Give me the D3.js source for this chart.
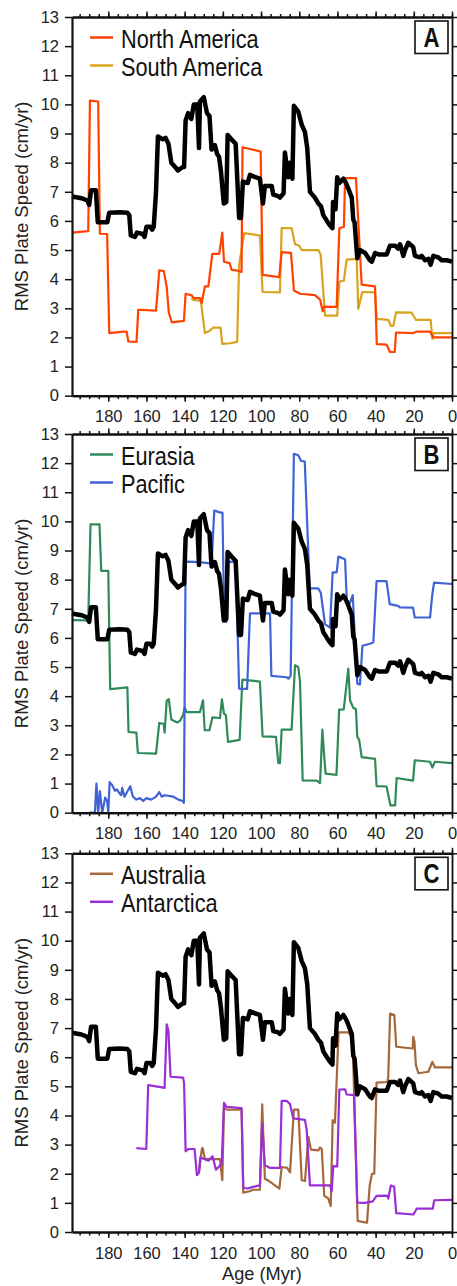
<!DOCTYPE html>
<html>
<head>
<meta charset="utf-8">
<script src="https://cdn.jsdelivr.net/npm/d3@7"></script>
<style>
  html, body { margin: 0; padding: 0; background: #fff; }
  svg { display: block; }
  .tick text { font-family: "Liberation Sans", Arial, Helvetica, sans-serif; }
</style>
</head>
<body>
<div id="chart"></div>
<script>
// ---------------- DATA ----------------
const yTickValues = [0,1,2,3,4,5,6,7,8,9,10,11,12,13];
const ageTickValues = [0,20,40,60,80,100,120,140,160,180];
const ageMinorTicks = [0,5,10,15,20,25,30,35,40,45,50,55,60,65,70,75,80,85,90,95,100,105,110,115,120,125,130,135,140,145,150,155,160,165,170,175,180,185,190,195];

// global RMS plate speed (black), [age Myr, cm/yr]
const globalRms = [[199,6.84],[194,6.78],[191,6.7],[190,6.55],[189,7.05],[186.5,7.05],[185.5,5.95],[180.5,5.95],[179.5,6.28],[174,6.3],[170,6.28],[169,6.2],[168.2,5.5],[166,5.45],[165,5.6],[162,5.55],[161,5.45],[160,5.8],[158,5.8],[157,5.7],[156.2,5.8],[155,7.0],[154,8.9],[151.5,8.8],[150,8.85],[148.5,8.65],[147,8.0],[145,7.85],[143.5,7.73],[141,7.85],[140.3,7.85],[139.5,9.45],[138.2,9.7],[136.5,9.5],[135.2,10.0],[133.4,10.0],[132.5,8.5],[132,10.1],[130,10.25],[128.3,9.7],[127,9.6],[125.9,8.45],[124.2,8.6],[123,8.3],[122,8.2],[121,7.7],[119.5,6.6],[118.2,6.65],[117.5,8.95],[115.5,8.8],[113.3,8.65],[111.5,6.1],[110.5,6.1],[109.5,7.35],[107,7.3],[105.8,7.58],[103,7.5],[100.6,7.45],[99,6.6],[98,7.2],[94.4,7.2],[93.6,6.9],[91,6.85],[90.1,6.8],[88.2,6.95],[87.5,8.35],[85.8,7.5],[85,8.0],[83.6,7.45],[82.8,9.95],[80.5,9.75],[78.7,9.3],[77,9.05],[75.8,8.5],[74.4,7.0],[71.8,6.8],[70,6.6],[68.6,6.5],[67.4,6.2],[65.5,6.0],[64,5.85],[62.6,5.75],[62.3,6.65],[61,6.4],[60.1,7.5],[59,7.3],[56.9,7.45],[55.5,7.3],[54.5,7.15],[52.5,6.8],[51.7,6.05],[51,5.95],[49.6,4.72],[48.2,5.0],[45.5,4.9],[43,4.65],[42,4.6],[40.3,4.9],[38.5,4.85],[36,4.85],[34.2,4.85],[32.5,5.15],[29.8,5.15],[28.2,5.05],[27.2,5.2],[25.5,4.8],[24.6,5.0],[22.9,5.25],[20.3,5.1],[19.4,4.8],[16.8,4.75],[15.9,4.8],[14.1,4.65],[12.4,4.7],[11.2,4.5],[9.8,4.8],[7.2,4.75],[5.4,4.65],[2.8,4.65],[0,4.6]];

const northAmerica = [[199,5.6],[190.5,5.65],[189.6,10.13],[185.3,10.1],[184.4,5.56],[180.6,5.55],[179.5,2.15],[172,2.2],[170.4,2.2],[169.5,1.86],[165.2,1.85],[164.3,2.95],[155,2.92],[153.3,4.3],[150.9,4.28],[149.4,3.73],[148.3,2.85],[146.7,2.52],[140.4,2.57],[139.5,3.5],[136.4,3.45],[135.2,3.35],[132,3.35],[131.1,3.18],[129.4,3.75],[127.6,3.75],[125.5,4.87],[121.9,4.87],[120.3,5.6],[119.4,4.6],[116.5,4.55],[115.4,4.32],[112.9,4.3],[110.2,4.25],[109.7,8.53],[100.2,8.38],[99.2,4.15],[90.5,4.07],[89.2,4.93],[84.3,4.9],[82.8,3.61],[79.6,3.5],[71.8,3.45],[69.1,3.3],[67.7,2.9],[67,3.06],[60.4,3.05],[59,5.75],[56.6,5.8],[56,7.47],[50.3,7.47],[47.3,3.81],[40.3,3.75],[39.4,1.77],[34.2,1.75],[32.5,1.5],[30,1.5],[29.3,2.17],[20.2,2.15],[18.5,2.2],[11.5,2.2],[9.8,2.0],[0,2.0]];

const southAmerica = [[136.5,3.35],[135.5,3.29],[131.5,3.25],[129.4,2.15],[127.6,2.2],[125,2.34],[121.2,2.34],[120.3,1.78],[116,1.8],[112.5,1.85],[111.5,4.49],[108.8,5.58],[100.6,5.5],[99.2,3.56],[90.1,3.55],[89.2,5.75],[84,5.75],[82.2,5.2],[80,5.15],[78.7,5.0],[70,5.0],[68.8,4.85],[66.5,2.75],[60.1,2.75],[59,3.92],[56.6,3.95],[55.2,4.67],[49.9,4.7],[49.1,2.98],[47,3.56],[40.3,3.55],[39.4,2.64],[33.3,2.6],[32,2.4],[30.7,2.4],[29.3,2.86],[21.1,2.85],[18.9,2.6],[11.2,2.6],[10.3,1.95],[9.8,2.15],[0,2.15]];

const eurasia = [[199,6.61],[190.5,6.6],[189.3,9.9],[184.6,9.9],[183.7,8.3],[180,8.3],[179,4.24],[170,4.3],[169.4,2.77],[165.3,2.75],[164.5,2.05],[155,2.03],[153.3,3.08],[151,3.05],[150.5,2.75],[149.4,3.85],[148.3,3.9],[147,3.2],[144,3.1],[142.5,3.15],[140.8,3.35],[140,3.61],[139,3.45],[132,3.45],[130.4,3.86],[129.5,2.83],[127,2.83],[125.5,3.27],[121.5,3.25],[120.5,3.89],[119.4,3.4],[118.4,3.35],[117.3,2.43],[111.2,2.5],[109.8,4.57],[100.6,4.5],[99.2,2.62],[92.2,2.6],[91,1.71],[90.1,1.7],[89.2,2.85],[84,2.85],[82.2,5.06],[80.5,5.0],[79.6,4.5],[78.2,1.11],[70.9,1.1],[69.1,1.02],[67.9,2.85],[67,2.0],[66.2,1.34],[60.5,1.3],[59.1,3.54],[56.7,3.55],[54.3,4.95],[53.4,3.86],[51.7,3.6],[50.3,3.55],[49.6,2.6],[48.6,2.5],[47.3,1.91],[40.3,1.85],[39.5,0.91],[34.3,0.9],[32.2,0.25],[29.8,0.25],[29,1.19],[20.4,1.1],[19.5,1.8],[11.5,1.75],[10.3,1.55],[8.9,1.75],[0,1.7]];

const pacific = [[190,0],[187,0],[186.2,1.0],[185.3,0],[184.4,0.74],[183.2,0],[181.6,0.52],[180.6,0.4],[180,0],[179.3,1.05],[178,0.95],[176.5,0.75],[175.5,0.8],[174,0.65],[173.2,0.6],[172.7,0.85],[171.5,0.55],[168.5,0.91],[167.1,0.55],[165.3,0.45],[163.4,0.5],[161.7,0.4],[160.1,0.5],[157.5,0.45],[155,0.55],[153.3,0.71],[152,0.55],[150.5,0.6],[145.9,0.55],[143.3,0.45],[141,0.4],[140.4,0.34],[139.5,8.62],[132,8.6],[125.9,8.55],[124.5,10.37],[121.2,10.3],[120.2,10.3],[119.3,6.58],[118.1,6.55],[117,8.62],[113.2,8.6],[111.5,4.26],[107.3,4.25],[105.8,6.84],[95.3,6.84],[94.6,4.7],[86.6,4.65],[85.7,4.6],[84.5,4.7],[82.8,12.32],[80.5,12.27],[79.1,12.08],[77.1,12.05],[74.5,7.7],[70.1,7.7],[68.7,7.55],[66.5,6.47],[63.9,6.35],[62.5,8.25],[60.4,8.25],[59.5,8.79],[56,8.7],[55.1,7.3],[53.4,7.2],[52,7.47],[49.6,4.43],[48.2,4.4],[46.9,5.73],[43,5.8],[41.2,5.85],[39.5,7.95],[34.3,7.95],[32.6,7.16],[28.2,7.1],[27.3,7.05],[20.4,7.04],[19.5,6.7],[11.5,6.7],[10.3,7.5],[9.4,7.9],[0,7.85]];

const australia = [[133.6,1.95],[132.5,2.05],[131,2.85],[130.6,2.89],[129.4,2.5],[121.5,2.5],[120.3,1.78],[119.4,4.3],[118.1,4.2],[110.2,4.2],[109.3,1.35],[106,1.4],[104.1,1.45],[100.6,1.45],[99.4,4.38],[98,1.83],[95.8,1.75],[90.4,1.49],[89.2,2.23],[86.3,2.2],[84.8,2.05],[82.8,4.2],[80.5,4.2],[78.7,1.78],[77,1.75],[75.2,3.26],[73.9,2.83],[70,2.8],[69.1,2.9],[68.2,2.85],[66.9,1.24],[64.8,1.15],[63.5,0.89],[62.5,3.84],[61.3,3.75],[59.4,6.85],[54.3,6.85],[53.1,6.75],[52,6.5],[49.4,0.38],[47,0.35],[44.5,0.32],[43.1,1.6],[41.9,2.0],[40.7,2.0],[39.5,5.13],[33.9,5.15],[33.4,5.3],[32.4,7.5],[30.2,7.45],[29.2,6.36],[20.6,6.3],[20.3,6.7],[19.7,6.55],[18.9,5.73],[17.6,5.45],[12.4,5.5],[10.3,5.84],[8.9,5.65],[0,5.65]];

const antarctica = [[165.3,2.88],[160.1,2.85],[159.1,5.04],[155,5.0],[150.5,4.95],[149.4,7.13],[148.5,6.9],[147.4,5.33],[140.8,5.3],[140.3,5.1],[139.5,2.77],[138,2.85],[134.8,2.85],[133.6,1.95],[132.5,2.05],[131.8,2.56],[129.4,2.5],[127.6,2.45],[125.4,2.6],[123.6,2.14],[122,2.25],[120.6,2.35],[119.4,4.43],[118.1,4.3],[110.2,4.25],[109.3,1.51],[106.7,1.5],[104.1,1.55],[100.6,1.6],[99.4,3.7],[98,2.29],[95.3,2.2],[90.1,2.2],[89.2,4.5],[86.6,4.5],[84.9,4.4],[83.1,3.9],[77,3.85],[76.1,3.5],[74.4,1.6],[63.9,1.6],[63,1.4],[62.2,2.26],[60.1,2.25],[59,4.89],[56,4.9],[55.2,4.72],[51.3,4.7],[49.6,1.01],[45.7,1.0],[41.5,1.05],[39.5,1.24],[33.9,1.25],[33.4,1.15],[32,1.6],[30.3,1.55],[29.2,0.65],[20.2,0.6],[18.5,0.8],[10.1,0.8],[9.3,1.09],[0,1.1]];

const panelLabels = ["A", "B", "C"];
const seriesNames = [["North America","South America"],["Eurasia","Pacific"],["Australia","Antarctica"]];
const seriesColors = [["#ff4200","#d9a21f"],["#2e8b57","#3f63d6"],["#a5673c","#9a2fd6"]];
const seriesData = [[northAmerica, southAmerica],[eurasia, pacific],[australia, antarctica]];
const drawOrder = [[1,0],[0,1],[0,1]]; // last drawn is on top

// ---------------- LAYOUT ----------------
const W = 457, H = 1286;
const left = 72, right = 452;
const panelTops = [17, 434, 853.3];
const panelH = 378.7;

const svg = d3.select("#chart").append("svg").attr("width", W).attr("height", H);

const x = d3.scaleLinear().domain([199, 0]).range([left, right]);

const tickFont = "16.5px";
const fontNum = '"Liberation Sans", Arial, Helvetica, sans-serif';
const narrowScale = 0.82;

panelTops.forEach((top, i) => {
  const bottom = top + panelH;
  const y = d3.scaleLinear().domain([0, 13]).range([bottom, top]);
  const g = svg.append("g");

  const line = d3.line().x(d => x(d[0])).y(d => y(d[1]));

  drawOrder[i].forEach(k => {
    g.append("path")
      .datum(seriesData[i][k])
      .attr("d", line)
      .attr("fill", "none")
      .attr("stroke", seriesColors[i][k])
      .attr("stroke-width", 2.2)
      .attr("stroke-linejoin", "round");
  });

  g.append("path")
    .datum(globalRms)
    .attr("d", line)
    .attr("fill", "none")
    .attr("stroke", "#000")
    .attr("stroke-width", 4.5)
    .attr("stroke-linejoin", "round");

  const styleAxis = (ax, w) => {
    ax.selectAll(".domain").attr("stroke", "#111").attr("stroke-width", w);
    ax.selectAll(".tick line").attr("stroke", "#111").attr("stroke-width", 1.5);
  };

  const axL = g.append("g").attr("transform", `translate(${left},0)`)
    .call(d3.axisLeft(y).tickValues(yTickValues).tickSize(7).tickSizeOuter(0).tickPadding(6));
  styleAxis(axL, 2.2);
  axL.selectAll(".tick text").attr("font-size", tickFont).attr("fill", "#222").style("font-family", fontNum);

  const axR = g.append("g").attr("transform", `translate(${right},0)`)
    .call(d3.axisRight(y).tickValues(yTickValues).tickSize(5).tickSizeOuter(0).tickFormat(""));
  styleAxis(axR, 1.8);

  const axBm = g.append("g").attr("transform", `translate(0,${bottom})`)
    .call(d3.axisBottom(x).tickValues(ageMinorTicks).tickSize(3.5).tickSizeOuter(0).tickFormat(""));
  styleAxis(axBm, 2.2);
  const axB = g.append("g").attr("transform", `translate(0,${bottom})`)
    .call(d3.axisBottom(x).tickValues(ageTickValues).tickSize(6).tickSizeOuter(0).tickPadding(9));
  styleAxis(axB, 2.2);
  axB.selectAll(".tick text").attr("font-size", tickFont).attr("fill", "#222").style("font-family", fontNum);

  const axTm = g.append("g").attr("transform", `translate(0,${top})`)
    .call(d3.axisTop(x).tickValues(ageMinorTicks).tickSize(3).tickSizeOuter(0).tickFormat(""));
  styleAxis(axTm, 2.2);
  const axT = g.append("g").attr("transform", `translate(0,${top})`)
    .call(d3.axisTop(x).tickValues(ageTickValues).tickSize(5.5).tickSizeOuter(0).tickFormat(""));
  styleAxis(axT, 2.2);

  g.append("text")
    .attr("transform", `translate(28,${(top + bottom) / 2}) rotate(-90)`)
    .attr("text-anchor", "middle")
    .style("font-family", fontNum)
    .attr("font-size", "18.5px")
    .attr("fill", "#222")
    .text("RMS Plate Speed (cm/yr)");

  seriesNames[i].forEach((name, k) => {
    const by = top + 31 + k * 28;
    g.append("line")
      .attr("x1", 90).attr("x2", 113)
      .attr("y1", by - 10.5).attr("y2", by - 10.5)
      .attr("stroke", seriesColors[i][k]).attr("stroke-width", 2.5);
    g.append("text")
      .attr("transform", `translate(121,${by}) scale(${narrowScale},1)`)
      .style("font-family", fontNum)
      .attr("font-size", "26.5px")
      .attr("fill", "#111")
      .text(name);
  });

  g.append("rect")
    .attr("x", 415).attr("y", top + 4).attr("width", 33).attr("height", 32.5)
    .attr("fill", "#fff").attr("stroke", "#111").attr("stroke-width", 1.6);
  g.append("text")
    .attr("transform", `translate(431.5,${top + 29.8}) scale(${narrowScale},1)`)
    .attr("text-anchor", "middle")
    .style("font-family", fontNum)
    .attr("font-weight", "bold")
    .attr("font-size", "27px")
    .attr("fill", "#111")
    .text(panelLabels[i]);
});

svg.append("text")
  .attr("x", (left + right) / 2).attr("y", 1280)
  .attr("text-anchor", "middle")
  .style("font-family", fontNum)
  .attr("font-size", "18.2px")
  .attr("fill", "#222")
  .text("Age (Myr)");
</script>
</body>
</html>
